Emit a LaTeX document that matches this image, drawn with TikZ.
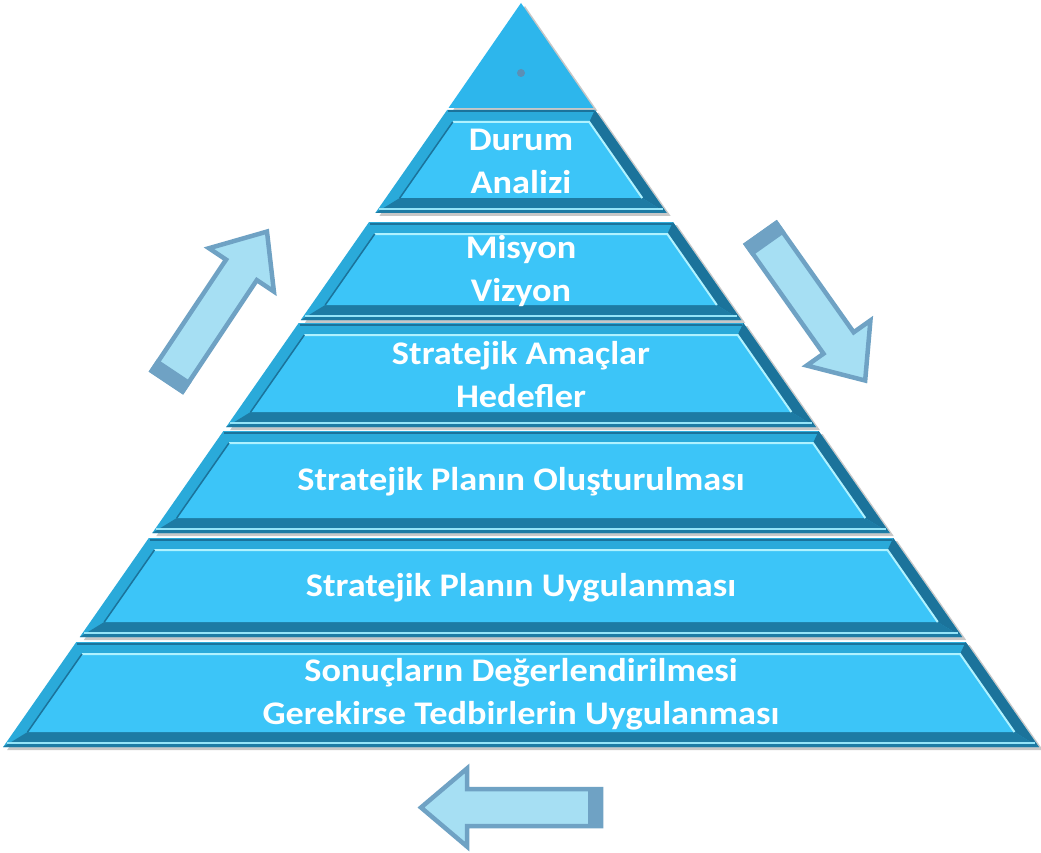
\documentclass[tikz,border=0pt]{standalone}
\usepackage{fontspec}
\setmainfont[FakeStretch=1.1]{Carlito}
\usetikzlibrary{shadows}
\definecolor{PyrFace}{RGB}{60,197,248}
\definecolor{PyrBase}{RGB}{42,170,218}
\definecolor{PyrDark}{RGB}{27,115,155}
\definecolor{PyrLight}{RGB}{175,242,255}
\definecolor{PyrTop}{RGB}{45,182,236}
\definecolor{ArrFill}{RGB}{166,223,243}
\definecolor{ArrLine}{RGB}{111,162,196}
\definecolor{DotGray}{RGB}{92,143,181}
\tikzset{
  lvltext/.style={text=white, align=center, inner sep=0pt,
    font=\fontsize{33}{43}\selectfont\bfseries},
  bandshadow/.style={drop shadow={shadow xshift=4pt, shadow yshift=-3pt, opacity=0.22, fill=black}},
  arrowbody/.style={fill=ArrFill, draw=ArrLine, line width=4.5pt, line join=miter},
  cyclearrow/.pic={
    \draw[arrowbody] (2,-18.5) -- (136,-18.5) -- (136,-39) -- (182,0)
      -- (136,39) -- (136,18.5) -- (2,18.5) -- cycle;
    \fill[ArrLine] (0,-20.7) rectangle (15,20.7);
  }
}
\begin{document}
\begin{tikzpicture}[x=1pt,y=-1pt]
  \path[use as bounding box] (0,0) rectangle (1041,853);
  \fill[white] (0,0) rectangle (1041,853);
  \def\cx{521}
  % top of the pyramid
  \fill[PyrTop, bandshadow] (\cx,3) -- (\cx+72.5,108) -- (\cx-72.5,108) -- cycle;
  \node[circle, fill=DotGray, inner sep=0pt, minimum size=8pt] (topdot) at (\cx,73) {};
  % levels, top to bottom
  \foreach \yt/\yb/\lvl/\txt in {110/213/1/{Durum\\Analizi},
      222/320/2/{Misyon\\Vizyon},
      323/427/3/{Stratejik Amaçlar\\Hedefler},
      431/533/4/{Stratejik Planın Oluşturulması},
      538/637/5/{Stratejik Planın Uygulanması},
      642/747/6/{Sonuçların Değerlendirilmesi\\Gerekirse Tedbirlerin Uygulanması}}{
    \pgfmathsetmacro\wt{0.697*(\yt-4)}
    \pgfmathsetmacro\wb{0.697*(\yb-4)}
    \pgfmathsetmacro\yti{\yt+12}
    \pgfmathsetmacro\ybi{\yb-15}
    \pgfmathsetmacro\wti{0.697*(\yti-4)-14}
    \pgfmathsetmacro\wbi{0.697*(\ybi-4)-14}
    \fill[PyrBase, bandshadow] (\cx-\wt,\yt) -- (\cx+\wt,\yt) -- (\cx+\wb,\yb) -- (\cx-\wb,\yb) -- cycle;
    % bevel
    \fill[PyrDark] (\cx+\wt,\yt) -- (\cx+\wb,\yb) -- (\cx+\wbi,\ybi) -- (\cx+\wti,\yti) -- cycle;
    \fill[PyrDark!85!PyrBase] (\cx-\wb,\yb) -- (\cx+\wb,\yb) -- (\cx+\wbi,\ybi) -- (\cx-\wbi,\ybi) -- cycle;
    \draw[PyrDark, line width=2pt] (\cx-\wt+1,\yt+1.5) -- (\cx+\wt-1,\yt+1.5);
    \fill[PyrFace] (\cx-\wti,\yti) -- (\cx+\wti,\yti) -- (\cx+\wbi,\ybi) -- (\cx-\wbi,\ybi) -- cycle;
    \draw[PyrLight, line width=2pt] (\cx-\wti,\yti) -- (\cx+\wti,\yti) -- (\cx+\wbi,\ybi);
    \draw[PyrDark, line width=1.5pt] (\cx-\wti,\yti) -- (\cx-\wbi,\ybi);
    \draw[PyrLight!80!PyrBase, line width=2.5pt] (\cx-\wb+4,\yb-4) -- (\cx+\wb-4,\yb-4);
    \node[lvltext] (lvl\lvl) at (\cx,{(\yt+\yb)/2}) {\txt};
  }
  % cycle arrows
  \pic[rotate=56.3] (upArrow) at (166,383) {cyclearrow};
  \pic[rotate=-54.7] (downArrow) at (760,232) {cyclearrow};
  \pic[rotate=180] (backArrow) at (603,807.5) {cyclearrow};
\end{tikzpicture}
\end{document}
